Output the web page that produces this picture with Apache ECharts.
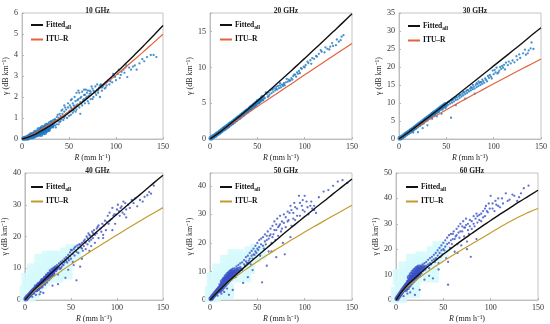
<!DOCTYPE html>
<html><head><meta charset="utf-8">
<script src="https://cdn.jsdelivr.net/npm/echarts@6/dist/echarts.min.js"></script>
<style>html,body{margin:0;padding:0;background:#fff}#c{width:550px;height:324px}</style>
</head><body><div id="c"></div>
<script>
// ---------- DATA ----------
const titles = ['10 GHz','20 GHz','30 GHz','40 GHz','50 GHz','60 GHz'];
const xTicks = [0,50,100,150];
const yMax = [6, 17.6, 35, 40, 44.5, 50];
const yStep = [1, 5, 5, 10, 10, 10];
const rGrid = [0,10,20,30,40,50,60,70,80,90,100,110,120,130,140,150];

const fit10 = [0,0.148,0.372,0.638,0.935,1.256,1.60,1.96,2.34,2.74,3.15,3.58,4.02,4.47,4.93,5.40];
const itu10 = [0,0.186,0.431,0.705,1.00,1.31,1.64,1.98,2.32,2.68,3.04,3.42,3.80,4.19,4.59,4.99];
const fit20 = [0,0.92,1.96,3.04,4.16,5.30,6.46,7.64,8.83,10.04,11.26,12.49,13.72,14.97,16.22,17.5];
const itu20 = [0,0.93,1.84,2.74,3.63,4.53,5.42,6.30,7.19,8.07,8.96,9.84,10.72,11.60,12.47,13.35];
const fit30 = [0,1.87,3.83,5.83,7.86,9.91,11.95,14.03,16.11,18.2,20.3,22.4,24.5,26.6,28.8,30.9];
const itu30 = [0,1.88,3.53,5.11,6.65,8.14,9.62,11.08,12.51,13.93,15.34,16.74,18.11,19.49,20.85,22.2];
const fit40 = [0,3.19,6.07,8.85,11.55,14.2,16.8,19.4,21.95,24.5,27.0,29.5,32.0,34.4,36.9,39.3];
const itu40 = [0,2.77,5.06,7.20,9.24,11.22,13.14,15.03,16.88,18.69,20.49,22.25,24.0,25.73,27.43,29.1];
const fit50 = [0,3.51,6.64,9.64,12.57,15.43,18.25,21.0,23.8,26.5,29.2,31.9,34.5,37.2,39.8,42.4];
const itu50 = [0,3.60,6.36,8.86,11.22,13.47,15.65,17.76,19.81,21.82,23.79,25.72,27.63,29.49,31.35,33.2];
const fit60 = [0,5.0,8.68,11.99,15.08,18.0,20.8,23.55,26.2,28.8,31.3,33.8,36.2,38.6,40.9,43.2];
const itu60 = [0,4.36,7.48,10.26,12.85,15.29,17.62,19.87,22.05,24.18,26.5,28.7,30.8,32.8,34.5,36.0];

const core10 = [[2,0.02],[4,0.05],[6,0.08],[8,0.11],[10,0.15],[12,0.18],[14,0.22],[16,0.26],[18,0.30],[20,0.34],[22,0.39],[24,0.44],[26,0.5],[10,0.1],[14,0.17],[18,0.25],[22,0.33],[26,0.4],[28,0.55],[30,0.6],[12,0.22],[16,0.3],[20,0.4],[24,0.5],[6,0.04],[8,0.14],[12,0.12],[16,0.2],[18,0.45],[22,0.55],[26,0.65],[30,0.75],[28,0.45],[32,0.65],[34,0.85],[20,0.22],[24,0.3],[14,0.32],[10,0.22]];
const pts10 = [[28,0.45],[30,0.5],[32,0.7],[33,0.55],[34,0.8],[35,0.65],[36,0.9],[37,0.7],[38,0.85],[39,1.0],[40,0.8],[41,1.1],[42,0.95],[43,1.2],[44,1.05],[45,1.3],[46,1.1],[47,1.4],[48,1.2],[49,1.5],[50,1.3],[51,1.6],[52,1.15],[53,1.45],[54,1.7],[55,1.35],[56,1.55],[57,1.8],[58,1.4],[59,1.65],[60,1.9],[61,1.5],[62,1.75],[63,2.0],[64,1.6],[65,1.85],[66,2.1],[67,1.7],[68,1.95],[69,2.2],[70,1.8],[71,2.05],[72,2.3],[73,1.9],[74,2.15],[75,2.4],[76,2.0],[77,2.25],[78,2.5],[79,2.1],[80,2.35],[81,2.2],[82,2.45],[83,2.0],[84,2.6],[85,2.3],[86,2.5],[88,2.4],[89,2.7],[90,2.55],[92,2.8],[93,2.6],[95,2.9],[96,2.7],[98,3.0],[100,2.8],[102,3.1],[104,2.9],[106,3.2],[108,3.3],[110,3.4],[112,2.95],[114,3.4],[118,3.45],[120,3.5],[125,3.6],[130,3.7],[133,3.9],[137,4.0],[140,4.0],[143,3.9],[60,2.3],[58,2.2],[45,1.6],[62,1.2],[52,1.85],[66,2.35],[70,2.3],[42,1.35],[48,1.0]];
const extra10 = [[20,0.55],[22,0.3],[24,0.62],[25,0.35],[27,0.7],[29,0.4],[31,0.85],[33,0.6],[35,0.95],[36,0.55],[38,1.15],[40,1.2],[41,0.85],[43,1.4],[44,0.9],[46,1.5],[47,1.2],[49,1.7],[50,1.1],[52,1.5],[53,1.9],[55,1.6],[56,2.0],[57,1.3],[59,1.85],[61,2.2],[63,1.7],[64,2.25],[66,1.9],[68,2.35],[69,2.0],[71,1.7],[72,2.15],[74,2.5],[75,1.9],[76,2.3],[78,2.2],[80,2.6],[81,2.3],[83,2.55],[85,2.45],[87,2.6],[89,2.45],[91,2.75],[94,2.75],[97,3.1],[99,2.95],[103,3.3],[105,3.05],[109,3.15],[111,3.5],[116,3.3],[122,3.3],[128,3.8],[37,1.05],[39,0.7],[45,1.0],[51,1.35],[54,1.25],[58,1.6],[62,1.95],[67,2.1],[73,2.25]];

const core20 = [[1,0.1],[3,0.3],[5,0.45],[7,0.65],[9,0.85],[11,1.05],[13,1.25],[15,1.45],[17,1.65],[19,1.85],[21,2.05],[23,2.25],[25,2.45],[27,2.65],[29,2.85],[31,3.05],[33,3.3],[35,3.5],[37,3.7],[39,3.9],[41,4.1],[43,4.35],[45,4.55],[47,4.75],[49,5.0],[51,5.2],[53,5.4],[55,5.65]];
const pts20 = [[12,1.0],[14,1.5],[16,1.3],[18,1.9],[20,1.7],[22,2.3],[24,2.1],[26,2.7],[28,2.5],[30,3.2],[32,2.9],[34,3.5],[36,3.3],[38,4.0],[40,3.7],[42,4.4],[44,4.1],[46,4.9],[48,4.6],[50,5.4],[52,5.0],[54,5.8],[56,5.4],[57,6.0],[58,5.7],[60,6.3],[61,5.9],[62,6.5],[63,6.2],[64,6.8],[65,6.4],[66,6.9],[67,6.6],[68,7.1],[69,6.8],[70,7.3],[71,6.9],[72,7.4],[73,7.1],[74,7.5],[75,7.2],[76,7.6],[77,7.4],[78,7.8],[79,7.5],[80,7.9],[82,8.0],[83,8.3],[84,8.1],[86,8.5],[87,8.3],[88,8.8],[90,9.0],[91,8.7],[92,9.3],[94,9.5],[95,9.2],[97,9.8],[99,10.1],[101,10.3],[104,10.6],[106,11.0],[107,10.5],[110,11.2],[112,11.6],[115,11.9],[118,12.2],[121,12.1],[124,12.6],[127,12.9],[130,13.0],[133,13.1],[136,13.6],[139,14.3],[141,14.5]];
const extra20 = [[10,0.9],[15,1.6],[19,1.6],[21,2.2],[25,2.3],[29,3.0],[33,3.1],[37,3.9],[41,4.0],[45,4.7],[49,5.2],[53,5.3],[55,6.0],[59,6.5],[62,6.0],[66,7.0],[70,7.0],[74,7.8],[78,7.6],[81,8.4],[85,8.2],[89,9.0],[93,9.1],[96,9.9],[100,10.0],[103,10.8],[108,11.3],[113,11.5],[117,12.4],[122,12.8],[126,12.5],[129,13.4],[134,13.9],[138,13.8]];

const core30 = [[1,0.2],[3,0.5],[5,0.9],[7,1.3],[9,1.7],[11,2.0],[13,2.4],[15,2.8],[17,3.2],[19,3.6],[21,4.0],[23,4.4],[25,4.8],[27,5.2],[29,5.6],[31,6.0],[33,6.4],[35,6.8],[37,7.2],[39,7.6],[41,8.0],[43,8.4],[45,8.8],[47,9.2],[49,9.6]];
const pts30 = [[12,2.5],[14,2.3],[16,3.2],[18,3.0],[20,3.9],[22,3.7],[24,4.6],[26,4.3],[28,5.4],[30,5.1],[32,6.3],[34,5.9],[36,7.0],[38,6.6],[40,7.9],[42,7.5],[44,8.6],[46,8.2],[48,9.3],[50,9.0],[51,10.0],[52,9.5],[53,10.3],[54,9.8],[55,10.6],[56,10.1],[57,10.9],[58,10.4],[59,11.2],[60,10.8],[61,11.6],[62,11.0],[63,11.9],[64,11.4],[65,12.3],[66,11.8],[67,12.6],[68,12.1],[69,13.0],[70,12.5],[71,13.3],[72,12.8],[73,13.6],[74,13.2],[75,14.0],[76,13.5],[77,14.2],[78,13.8],[79,14.5],[80,14.0],[81,15.0],[82,14.4],[83,15.3],[84,14.7],[85,15.6],[86,15.0],[87,15.8],[88,15.3],[89,16.1],[90,15.6],[92,16.4],[93,16.0],[95,17.0],[97,17.3],[98,16.8],[100,18.0],[102,18.5],[104,18.2],[106,19.0],[108,19.5],[110,19.8],[112,19.3],[115,20.5],[118,21.0],[122,21.3],[125,22.0],[128,22.5],[131,23.8],[134,23.4],[137,24.6],[140,26.8],[142,25.0],[15,1.8],[20,1.9],[25,3.0],[30,3.8],[35,5.6],[40,6.3],[55,5.9],[45,7.0],[60,9.4],[70,11.2],[80,12.6]];
const extra30 = [[11,2.2],[19,3.8],[23,4.1],[27,5.4],[31,5.6],[35,7.1],[39,7.2],[43,8.3],[47,9.5],[49,8.6],[52,10.3],[56,10.9],[60,11.6],[64,12.2],[68,13.0],[72,13.6],[76,14.4],[78,15.0],[82,15.5],[84,16.0],[86,15.8],[88,16.5],[91,16.8],[94,17.5],[96,17.8],[99,19.0],[101,19.2],[103,19.8],[105,18.5],[107,20.0],[109,20.3],[111,20.6],[113,21.2],[116,21.5],[120,21.8],[124,23.0],[127,23.5],[133,24.8],[136,23.8],[139,25.2]];

const core40 = [[1,0.3],[2,0.7],[3,1.0],[4,1.3],[5,1.6],[6,2.0],[7,2.3],[8,2.6],[9,2.9],[10,3.2],[11,3.5],[12,3.8],[13,4.1],[14,4.4],[15,4.7],[16,5.0],[17,5.3],[18,5.6],[19,5.9],[20,6.2],[22,6.8],[24,7.3],[26,7.9],[28,8.4],[30,9.0],[32,9.5],[34,10.0],[12,3.2],[14,3.6],[16,4.2],[18,4.8],[20,5.4],[22,6.0],[24,6.6],[26,7.2],[28,7.7],[30,8.2]];
const pts40 = [[10,2.0],[12,1.6],[15,3.2],[17,2.5],[18,6.5],[20,2.2],[21,7.3],[22,4.8],[23,8.0],[24,5.5],[25,8.5],[26,6.2],[27,9.3],[28,6.8],[29,9.8],[30,7.6],[31,10.2],[32,8.4],[33,10.6],[34,9.1],[35,11.0],[36,8.0],[37,11.5],[38,9.8],[39,12.0],[40,10.5],[41,12.4],[42,11.0],[43,13.0],[44,7.0],[45,13.5],[46,11.8],[47,14.2],[48,12.5],[49,15.0],[50,13.0],[51,15.6],[52,12.0],[53,16.0],[54,14.0],[55,16.8],[56,6.2],[57,17.2],[58,14.8],[59,17.5],[60,10.5],[61,16.5],[62,18.0],[63,15.5],[64,17.0],[65,19.0],[66,16.0],[67,20.0],[68,17.5],[69,21.0],[70,18.5],[71,20.2],[72,17.0],[73,21.5],[74,19.5],[75,22.0],[76,18.0],[78,21.0],[79,23.0],[80,19.5],[82,22.5],[84,24.0],[85,20.5],[87,25.0],[88,22.0],[90,26.5],[91,24.0],[92,27.5],[94,25.5],[95,29.0],[97,27.0],[98,24.0],[100,28.5],[101,30.0],[103,26.5],[105,29.5],[107,31.0],[108,27.0],[110,28.5],[112,30.0],[116,31.5],[118,30.5],[122,29.5],[128,31.0],[133,33.0],[137,33.5],[140,36.0]];
const extra40 = [[8,1.0],[11,4.5],[13,2.8],[14,5.2],[16,1.8],[19,4.0],[21,5.5],[23,6.2],[25,7.0],[27,7.5],[29,8.2],[31,8.8],[33,9.5],[35,9.8],[37,10.3],[39,10.0],[41,11.2],[43,11.8],[45,12.2],[47,13.0],[49,13.8],[50,15.8],[52,14.5],[54,16.5],[56,15.2],[58,16.5],[60,17.5],[62,16.2],[64,18.5],[66,18.0],[68,19.5],[70,20.5],[72,19.0],[74,21.0],[76,20.5],[78,22.5],[80,23.5],[83,21.5],[86,23.5],[89,24.5],[92,25.0],[96,26.5],[99,27.0],[102,28.0],[104,29.0],[106,27.5],[109,30.5],[114,29.0],[120,32.0],[125,31.5],[130,32.5],[135,34.0],[47,9.5],[53,11.0],[36,5.0],[30,4.5],[62,13.0],[70,15.5],[85,19.5],[95,22.0],[110,26.0]];
const patch40 = [[3,2],[7,3],[11,5],[15,6],[19,7],[23,9],[27,10],[31,11],[11,9],[19,12],[27,13],[35,13],[41,12],[47,14],[53,15],[43,9],[5,6],[33,8]];

const core50 = [[1,0.4],[2,0.8],[3,1.3],[4,1.7],[5,2.1],[6,2.5],[7,2.9],[8,3.3],[9,3.7],[10,4.1],[11,4.5],[12,4.9],[13,5.3],[14,5.7],[15,6.1],[16,6.5],[17,6.9],[18,7.3],[19,7.6],[20,8.0],[21,8.3],[22,8.7],[23,9.0],[24,9.3],[25,9.6],[26,9.9],[28,10.3],[30,10.8],[10,3.2],[12,3.8],[14,4.6],[16,5.4],[18,6.2],[20,7.0],[22,7.6],[24,8.2],[13,6.5],[15,7.3],[17,8.2],[19,9.0],[21,9.6],[23,10.2]];
const pts50 = [[8,1.5],[12,2.2],[15,2.8],[18,4.0],[20,1.8],[24,3.5],[26,11.2],[27,8.0],[28,11.8],[29,9.5],[30,12.3],[31,10.0],[32,12.8],[33,11.0],[34,13.2],[35,6.0],[36,14.0],[37,12.0],[38,15.0],[39,13.0],[40,15.5],[41,13.8],[42,16.5],[43,12.5],[44,17.2],[45,14.5],[46,18.0],[47,15.8],[48,19.0],[49,16.5],[50,20.0],[51,17.5],[52,21.0],[53,15.5],[54,19.5],[55,6.2],[56,22.0],[57,18.0],[58,23.0],[59,19.5],[60,21.0],[61,24.0],[62,17.0],[63,22.5],[64,25.0],[65,20.0],[66,26.0],[67,23.0],[68,27.5],[69,21.0],[70,24.5],[71,28.5],[72,22.5],[73,26.0],[74,29.5],[75,24.0],[76,27.5],[77,20.0],[78,30.0],[79,16.0],[80,25.5],[82,31.0],[83,28.0],[85,33.0],[86,26.0],[88,30.5],[89,34.0],[90,28.0],[92,32.0],[94,36.5],[95,29.5],[97,33.0],[98,35.0],[100,31.0],[102,34.5],[104,30.0],[106,33.0],[108,32.0],[110,31.5],[112,30.5],[120,38.0],[130,40.0],[135,41.5],[140,42.0]];
const extra50 = [[10,5.5],[12,6.0],[14,7.5],[16,8.0],[18,8.5],[20,9.5],[22,10.5],[24,11.0],[26,8.5],[28,9.0],[30,9.8],[32,11.5],[34,10.5],[36,12.5],[38,13.5],[40,13.0],[42,14.5],[44,15.5],[46,16.0],[48,17.0],[50,18.0],[52,18.5],[54,21.5],[56,19.0],[58,20.5],[60,22.5],[62,21.5],[64,23.0],[66,22.0],[68,24.5],[70,26.5],[72,25.5],[74,26.5],[76,25.0],[78,27.0],[80,29.0],[82,27.5],[84,30.5],[86,31.5],[88,28.5],[90,32.5],[92,29.5],[95,34.0],[98,31.5],[100,36.5],[103,32.5],[107,34.5],[110,33.0],[115,36.0],[125,38.5],[145,41.0],[40,8.0],[45,10.5],[60,12.0],[70,15.0],[65,17.0],[85,22.0]];
const patch50 = [[3,2],[7,4],[11,5],[15,7],[19,9],[23,10],[27,12],[11,10],[19,13],[27,15],[33,14],[39,12],[45,16],[51,17],[17,3],[5,7],[35,9]];

const core60 = [[1,0.5],[2,1.1],[3,1.6],[4,2.2],[5,2.7],[6,3.2],[7,3.8],[8,4.3],[9,4.8],[10,5.3],[11,5.8],[12,6.3],[13,6.8],[14,7.3],[15,7.8],[16,8.3],[17,8.8],[18,9.2],[19,9.6],[20,10.0],[21,10.4],[22,10.8],[23,11.2],[24,11.6],[25,12.0],[27,12.5],[29,13.0],[10,4.0],[12,4.8],[14,5.8],[16,6.8],[18,7.6],[20,8.4],[22,9.2],[24,10.0],[14,9.0],[16,10.0],[18,11.0],[20,11.8],[22,12.5],[24,13.0]];
const pts60 = [[8,1.5],[12,2.5],[15,3.0],[18,4.5],[20,2.0],[25,4.0],[26,13.5],[27,10.5],[28,14.0],[29,11.5],[30,14.5],[31,12.0],[32,15.0],[33,13.0],[34,15.8],[35,12.5],[36,16.5],[37,14.0],[38,17.0],[39,8.5],[40,17.8],[41,15.0],[42,18.5],[43,16.0],[44,19.5],[45,14.5],[46,20.5],[47,17.0],[48,21.5],[49,18.0],[50,22.5],[51,19.5],[52,23.5],[53,16.5],[54,24.5],[55,6.0],[56,25.5],[57,20.5],[58,26.0],[59,22.0],[60,24.0],[61,27.0],[62,19.0],[63,25.0],[64,28.0],[65,22.0],[66,29.0],[67,24.5],[68,30.0],[69,21.5],[70,27.0],[71,31.0],[72,25.0],[73,28.5],[74,32.0],[75,23.0],[76,30.0],[77,26.0],[78,31.5],[79,17.0],[80,28.0],[82,33.0],[83,29.0],[85,34.0],[86,30.5],[88,33.5],[90,31.0],[92,35.0],[94,33.0],[95,37.0],[97,34.5],[99,36.0],[100,41.0],[102,38.0],[104,35.0],[106,37.5],[108,40.0],[110,36.5],[113,38.0],[116,42.0],[120,39.5],[125,41.0],[130,40.5],[135,44.0],[140,45.0]];
const extra60 = [[10,6.0],[12,7.5],[14,8.0],[16,9.0],[18,10.0],[20,11.0],[22,11.5],[24,12.0],[26,11.0],[28,12.5],[30,13.0],[32,13.5],[34,14.0],[36,14.5],[38,15.5],[40,16.0],[42,16.5],[44,17.5],[46,18.5],[48,19.5],[50,20.0],[52,21.0],[54,22.0],[56,22.5],[58,23.5],[60,26.0],[62,24.0],[64,25.5],[66,26.5],[68,27.0],[70,29.0],[72,28.5],[74,29.5],[76,27.5],[78,29.0],[80,31.0],[82,30.0],[84,32.0],[86,33.0],[88,31.5],[90,34.0],[92,32.5],[94,36.0],[96,35.0],[98,38.0],[102,36.0],[105,39.0],[108,37.0],[112,40.0],[118,39.0],[123,41.5],[128,39.0],[132,42.0],[45,12.0],[55,15.0],[65,18.5],[75,20.0],[85,24.0],[30,8.0],[35,9.5]];
const patch60 = [[3,2],[7,4],[11,6],[15,8],[19,10],[23,12],[27,14],[11,12],[19,15],[29,16],[35,14],[41,18],[47,20],[17,4],[5,9],[37,10]];

// ---------- LAYOUT / STYLE ----------
const layout = [
  {left:22, top:13, w:141, h:126, lx:26, ly:16},
  {left:210, top:13, w:142, h:126, lx:215, ly:16},
  {left:399, top:13, w:142, h:126, lx:403, ly:17},
  {left:22, top:173, w:141, h:127, lx:26, ly:178},
  {left:210, top:173, w:142, h:127, lx:215, ly:178},
  {left:396, top:173, w:142, h:127, lx:401, ly:178}
];
const panels = [
  {fit:fit10, itu:itu10, core:core10, pts:pts10.concat(extra10), patch:null},
  {fit:fit20, itu:itu20, core:core20, pts:pts20.concat(extra20), patch:null},
  {fit:fit30, itu:itu30, core:core30, pts:pts30.concat(extra30), patch:null},
  {fit:fit40, itu:itu40, core:core40, pts:pts40.concat(extra40), patch:patch40},
  {fit:fit50, itu:itu50, core:core50, pts:pts50.concat(extra50), patch:patch50},
  {fit:fit60, itu:itu60, core:core60, pts:pts60.concat(extra60), patch:patch60}
];
const FONT = 'Liberation Serif';
const boxColor = '#b5b5b5';

const grid=[], xAxis=[], yAxis=[], series=[], legend=[], title=[];
panels.forEach((p,i)=>{
  const L = layout[i];
  const bottomRow = i>=3;
  grid.push({left:L.left, top:L.top, width:L.w, height:L.h, show:true, borderColor:boxColor, borderWidth:0.8, containLabel:false});
  title.push({text:titles[i], left:L.left+L.w/2, top:L.top-11, textAlign:'center',
    textStyle:{fontFamily:FONT, fontSize:7.5, fontWeight:'bold', color:'#222'}});
  xAxis.push({type:'value', gridIndex:i, min:xTicks[0], max:xTicks[xTicks.length-1], interval:50,
    axisLine:{show:true, onZero:false, lineStyle:{color:boxColor, width:0.8}},
    axisTick:{show:true, inside:true, length:2, lineStyle:{color:boxColor}},
    splitLine:{show:false},
    axisLabel:{fontFamily:FONT, fontSize:8, color:'#333', margin:4},
    name:'{i|R} (mm h⁻¹)', nameLocation:'middle', nameGap:15,
    nameTextStyle:{fontFamily:FONT, fontSize:8, color:'#222', rich:{i:{fontFamily:FONT, fontSize:8, fontStyle:'italic', color:'#222'}}}
  });
  yAxis.push({type:'value', gridIndex:i, min:0, max:yMax[i], interval:yStep[i],
    axisLine:{show:true, onZero:false, lineStyle:{color:boxColor, width:0.8}},
    axisTick:{show:true, inside:true, length:2, lineStyle:{color:boxColor}},
    splitLine:{show:false},
    axisLabel:{fontFamily:FONT, fontSize:8, color:'#333', margin:4,
      formatter:(v)=> (Math.abs(v/yStep[i]-Math.round(v/yStep[i]))<1e-6 ? String(v) : '')},
    name:'γ (dB km⁻¹)', nameLocation:'middle', nameGap: (yMax[i]>=10?13:10), nameRotate:90,
    nameTextStyle:{fontFamily:FONT, fontSize:8, color:'#222'}
  });
  const scatColor = bottomRow ? '#3b50c6' : '#1a78c2';
  const ituColor = bottomRow ? '#c49a2c' : '#e2633b';
  if (p.patch) {
    series.push({type:'scatter', xAxisIndex:i, yAxisIndex:i, data:p.patch, symbol:'rect', symbolSize:16,
      itemStyle:{color:'#d6f9fc', opacity:0.9}, silent:true, z:1});
  }
  series.push({type:'scatter', xAxisIndex:i, yAxisIndex:i, data:p.core, symbolSize:5,
    itemStyle:{color:scatColor}, silent:true, z:2});
  series.push({type:'scatter', xAxisIndex:i, yAxisIndex:i, data:p.pts, symbolSize:2.3,
    itemStyle:{color:scatColor}, silent:true, z:2});
  series.push({type:'line', name:'itu'+i, xAxisIndex:i, yAxisIndex:i, data:rGrid.map((r,k)=>[r,p.itu[k]]),
    showSymbol:false, symbol:'none', smooth:true, lineStyle:{color:ituColor, width:1.2}, itemStyle:{color:ituColor}, silent:true, z:3});
  series.push({type:'line', name:'fit'+i, xAxisIndex:i, yAxisIndex:i, data:rGrid.map((r,k)=>[r,p.fit[k]]),
    showSymbol:false, symbol:'none', smooth:true, lineStyle:{color:'#111', width:1.4}, itemStyle:{color:'#111'}, silent:true, z:4});
  legend.push({data:['fit'+i,'itu'+i], left:L.lx, top:L.ly, orient:'vertical', itemGap:5,
    itemWidth:12, itemHeight:2, icon:'rect', selectedMode:false,
    formatter:(n)=> n.startsWith('fit') ? '{b|Fitted}{s|all}' : '{b|ITU–R}',
    textStyle:{fontFamily:FONT, fontSize:7.5, color:'#111', padding:[0,0,0,-2],
      rich:{b:{fontFamily:FONT, fontSize:7.5, fontWeight:'bold', color:'#111'},
            s:{fontFamily:FONT, fontSize:5.5, fontWeight:'bold', color:'#111', padding:[5,0,0,0]}}}
  });
});

const chart = echarts.init(document.getElementById('c'), null, {renderer:'canvas'});
chart.setOption({animation:false, backgroundColor:'#fff', title, grid, xAxis, yAxis, series, legend});
</script></body></html>
